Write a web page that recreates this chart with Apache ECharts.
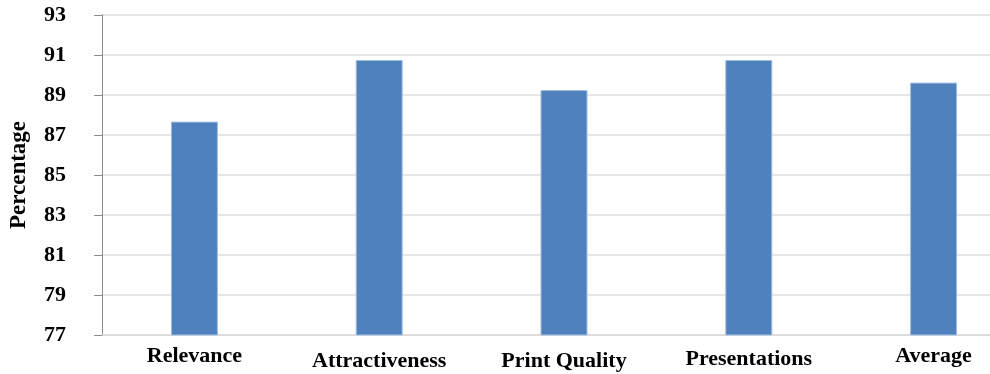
<!DOCTYPE html>
<html>
<head>
<meta charset="utf-8">
<script src="https://cdn.jsdelivr.net/npm/echarts@6/dist/echarts.min.js"></script>
<style>
  html, body { margin: 0; padding: 0; background: #fff; overflow: hidden; }
  /* the plot runs past the right edge of the window */
  #chart { width: 1030px; height: 374px; }
</style>
</head>
<body>
<div id="chart"></div>
<script>
// Survey scores per criterion
const categories = ['Relevance', 'Attractiveness', 'Print Quality', 'Presentations', 'Average'];
const percentages = [87.67, 90.75, 89.25, 90.75, 89.62];
// Vertical nudges for the category labels (px)
const labelOffsets = [0, 5, 5, 3, 0];

const serif = '"Liberation Serif", "Times New Roman", serif';
const rich = {};
labelOffsets.forEach((off, i) => {
  rich['c' + i] = {
    fontFamily: serif, fontWeight: 'bold', fontSize: 22, color: '#000',
    padding: [off, 0, 0, 0]
  };
});

const chart = echarts.init(document.getElementById('chart'));
chart.setOption({
  animation: false,
  grid: { left: 98, top: 15, bottom: 39, right: 4, containLabel: false },
  xAxis: {
    type: 'category',
    data: categories,
    axisLine: { show: true, lineStyle: { color: '#d9d9d9', width: 1.5 } },
    axisTick: { show: false },
    axisLabel: {
      interval: 0,
      margin: 10,
      formatter: (v, i) => '{c' + i + '|' + v + '}',
      rich: rich
    }
  },
  yAxis: {
    type: 'value',
    min: 77, max: 93, interval: 2,
    name: 'Percentage',
    nameLocation: 'middle',
    nameGap: 71,
    nameTextStyle: { fontFamily: serif, fontWeight: 'bold', fontSize: 23, color: '#000' },
    axisLine: { show: true, lineStyle: { color: '#8c8c8c', width: 1 } },
    axisTick: { show: true, length: 8, lineStyle: { color: '#8c8c8c' } },
    axisLabel: { margin: 36, fontFamily: serif, fontWeight: 'bold', fontSize: 22, color: '#000' },
    splitLine: { show: true, lineStyle: { color: '#dedede', width: 1.5 } }
  },
  series: [{
    type: 'bar',
    data: percentages,
    barWidth: 47,
    itemStyle: { color: '#4f81bd', borderColor: '#a3bde0', borderWidth: 1 }
  }]
});
</script>
</body>
</html>
